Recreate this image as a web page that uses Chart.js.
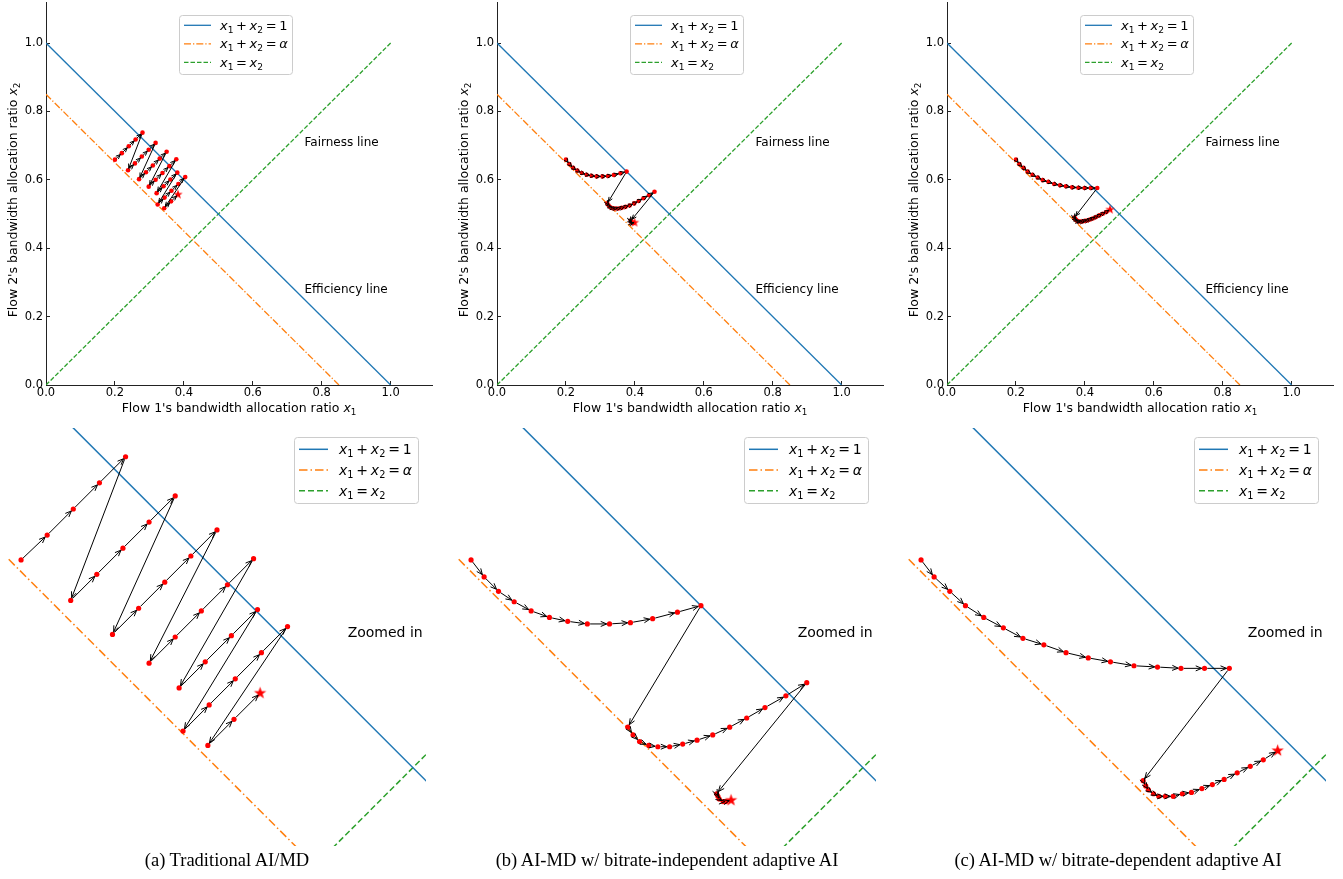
<!DOCTYPE html>
<html>
<head>
<meta charset="utf-8">
<script src="https://cdn.jsdelivr.net/npm/chart.js@4.4.0/dist/chart.umd.min.js"></script>
<style>
  html, body { margin: 0; padding: 0; background: #fff; }
  body { width: 1343px; height: 879px; position: relative; overflow: hidden; }
  canvas { position: absolute; }
  .cap { position: absolute; top: 849px; width: 600px; text-align: center; color: #000;
         font: 18.5px/22px "Liberation Serif", "Times New Roman", serif; white-space: nowrap; }
</style>
</head>
<body>
<canvas id="topA" width="450" height="422" style="left:0px;top:-2px"></canvas>
<canvas id="topB" width="450" height="422" style="left:451px;top:-2px"></canvas>
<canvas id="topC" width="450" height="422" style="left:901px;top:-2px"></canvas>
<canvas id="botA" width="450" height="430" style="left:0px;top:420px"></canvas>
<canvas id="botB" width="450" height="430" style="left:450px;top:420px"></canvas>
<canvas id="botC" width="450" height="430" style="left:900px;top:420px"></canvas>
<div class="cap" style="left:-73px">(a) Traditional AI/MD</div>
<div class="cap" style="left:367px">(b) AI-MD w/ bitrate-independent adaptive AI</div>
<div class="cap" style="left:818px">(c) AI-MD w/ bitrate-dependent adaptive AI</div>
<script>
// 값은 그림에서 읽은 것
const alpha = 0.85;
const xTicks = [0, 0.2, 0.4, 0.6, 0.8, 1.0];
const yTicks = [0, 0.2, 0.4, 0.6, 0.8, 1.0];

// 기준선 (x1+x2=1, x1+x2=alpha, x1=x2)
const effX = [0, 1];
const effY = [1, 0];
const alphaX = [0, alpha];
const alphaY = [alpha, 0];
const fairX = [0, 1];
const fairY = [0, 1];

// (a) Traditional AI/MD
const aimdX = [0.200, 0.220, 0.240, 0.260, 0.280, 0.238, 0.258, 0.278, 0.298, 0.318,
               0.270, 0.290, 0.310, 0.330, 0.350, 0.298, 0.318, 0.338, 0.358, 0.378,
               0.321, 0.341, 0.361, 0.381, 0.324, 0.344, 0.364, 0.384, 0.404, 0.343,
               0.363, 0.383];
const aimdY = [0.659, 0.678, 0.698, 0.718, 0.738, 0.628, 0.648, 0.668, 0.688, 0.708,
               0.602, 0.622, 0.642, 0.662, 0.682, 0.580, 0.600, 0.620, 0.640, 0.660,
               0.561, 0.581, 0.601, 0.621, 0.528, 0.548, 0.568, 0.588, 0.608, 0.517,
               0.537, 0.557];

// (b) bitrate-independent adaptive AI
const indepX = [0.200, 0.210, 0.221, 0.233, 0.246, 0.260, 0.274, 0.289, 0.306, 0.322,
                0.339, 0.358, 0.376, 0.320, 0.324, 0.329, 0.336, 0.343, 0.352, 0.362,
                0.373, 0.385, 0.398, 0.411, 0.425, 0.441, 0.457, 0.388, 0.389, 0.390,
                0.393, 0.395, 0.399];
const indepY = [0.659, 0.646, 0.635, 0.627, 0.620, 0.615, 0.612, 0.610, 0.610, 0.611,
                0.614, 0.619, 0.624, 0.531, 0.525, 0.520, 0.517, 0.516, 0.516, 0.518,
                0.521, 0.525, 0.531, 0.538, 0.546, 0.555, 0.565, 0.480, 0.478, 0.476,
                0.474, 0.474, 0.475];

// (c) bitrate-dependent adaptive AI
const depX = [0.200, 0.210, 0.222, 0.234, 0.248, 0.263, 0.278, 0.294, 0.311, 0.328,
              0.345, 0.363, 0.381, 0.399, 0.417, 0.436, 0.370, 0.372, 0.374, 0.378,
              0.382, 0.387, 0.393, 0.400, 0.407, 0.415, 0.423, 0.432, 0.442, 0.452,
              0.462, 0.473];
const depY = [0.659, 0.646, 0.635, 0.624, 0.615, 0.607, 0.599, 0.594, 0.588, 0.584,
              0.581, 0.578, 0.577, 0.576, 0.576, 0.576, 0.490, 0.486, 0.483, 0.480,
              0.478, 0.478, 0.478, 0.480, 0.481, 0.484, 0.487, 0.491, 0.496, 0.501,
              0.506, 0.513];

// 수식 라벨: [텍스트, 종류] (i: 이탤릭, r: 일반, s: 아래첨자)
const SP = '\u2009';
const labelEff = [['x', 'i'], ['1', 's'], [SP + '+' + SP, 'r'], ['x', 'i'], ['2', 's'], [SP + '=' + SP + '1', 'r']];
const labelAlpha = [['x', 'i'], ['1', 's'], [SP + '+' + SP, 'r'], ['x', 'i'], ['2', 's'], [SP + '=' + SP, 'r'], ['α', 'i']];
const labelFair = [['x', 'i'], ['1', 's'], [SP + '=' + SP, 'r'], ['x', 'i'], ['2', 's']];
const xTitle = [["Flow 1's bandwidth allocation ratio ", 'r'], ['x', 'i'], ['1', 's']];
const yTitle = [["Flow 2's bandwidth allocation ratio ", 'r'], ['x', 'i'], ['2', 's']];

const FAM = '"DejaVu Sans", sans-serif';
const zip = (xs, ys) => xs.map((x, i) => ({ x, y: ys[i] }));

const styles = {
    top: { width: 1.3, dashAlpha: [7, 2, 1.3, 2], dashFair: [4.5, 2], dot: 2.3, star: 5, head: 4.5, shrink: 2 },
    bottom: { width: 1.5, dashAlpha: [8.5, 3, 1.5, 3], dashFair: [6, 3], dot: 2.6, star: 6.5, head: 6, shrink: 2.8 },
};

// 빨간 별 마커
const makeStar = (r) => {
    const c = document.createElement('canvas');
    const s = Math.ceil(r * 2 + 2);
    c.width = s; c.height = s;
    const g = c.getContext('2d');
    g.fillStyle = 'red';
    g.beginPath();
    for (let k = 0; k < 10; k++) {
        const rr = k % 2 ? r * 0.4 : r;
        const a = -Math.PI / 2 + k * Math.PI / 5;
        g.lineTo(s / 2 + rr * Math.cos(a), s / 2 + rr * Math.sin(a));
    }
    g.closePath();
    g.fill();
    return c;
};

const drawMath = (ctx, parts, x, y, size, align) => {
    const fontOf = (k) => (k === 'i' ? 'italic ' : '') + (k === 's' ? size * 0.7 : size) + 'px ' + FAM;
    let total = 0;
    const widths = parts.map(([t, k]) => {
        ctx.font = fontOf(k);
        const w = ctx.measureText(t).width;
        total += w;
        return w;
    });
    let cx = align === 'center' ? x - total / 2 : x;
    ctx.textAlign = 'left';
    ctx.textBaseline = 'alphabetic';
    parts.forEach(([t, k], i) => {
        ctx.font = fontOf(k);
        ctx.fillText(t, cx, k === 's' ? y + size * 0.22 : y);
        cx += widths[i];
    });
};

// 화살표: 연속된 점 사이를 잇는 '->' 모양
const arrowPlugin = {
    id: 'arrows',
    afterDatasetsDraw(chart, args, opts) {
        const pts = chart.getDatasetMeta(opts.dataset).data;
        const ctx = chart.ctx;
        ctx.save();
        ctx.strokeStyle = '#000';
        ctx.lineWidth = opts.width;
        for (let i = 0; i < pts.length - 1; i++) {
            const a = pts[i], b = pts[i + 1];
            const dx = b.x - a.x, dy = b.y - a.y;
            const d = Math.hypot(dx, dy);
            if (d < 0.5) continue;
            const ux = dx / d, uy = dy / d;
            const sh = Math.min(opts.shrink, d / 3);
            const x0 = a.x + ux * sh, y0 = a.y + uy * sh;
            const x1 = b.x - ux * sh, y1 = b.y - uy * sh;
            ctx.beginPath();
            ctx.moveTo(x0, y0);
            ctx.lineTo(x1, y1);
            ctx.stroke();
            const L = opts.head, W = opts.head * 0.42;
            ctx.beginPath();
            ctx.moveTo(x1 - ux * L - uy * W, y1 - uy * L + ux * W);
            ctx.lineTo(x1, y1);
            ctx.lineTo(x1 - ux * L + uy * W, y1 - uy * L - ux * W);
            ctx.stroke();
        }
        ctx.restore();
    }
};

// 범례, 축 제목, 주석 텍스트
const mathPlugin = {
    id: 'mathText',
    afterDraw(chart, args, o) {
        const ctx = chart.ctx;
        const area = chart.chartArea;
        ctx.save();
        ctx.fillStyle = '#000';
        if (o.xTitle) {
            drawMath(ctx, xTitle, (area.left + area.right) / 2, o.xTitle.y, o.xTitle.size, 'center');
        }
        if (o.yTitle) {
            ctx.save();
            ctx.translate(o.yTitle.x, o.yTitle.cy);
            ctx.rotate(-Math.PI / 2);
            drawMath(ctx, yTitle, 0, 0, o.yTitle.size, 'center');
            ctx.restore();
        }
        (o.notes || []).forEach((n) => {
            ctx.font = n.size + 'px ' + FAM;
            ctx.textAlign = 'left';
            ctx.textBaseline = 'alphabetic';
            ctx.fillText(n.text, chart.scales.x.getPixelForValue(n.x), chart.scales.y.getPixelForValue(n.y));
        });
        const lg = o.legend;
        if (lg) {
            ctx.beginPath();
            ctx.roundRect(lg.x + 0.5, lg.y + 0.5, lg.w, lg.h, 3);
            ctx.fillStyle = 'rgba(255,255,255,0.85)';
            ctx.fill();
            ctx.strokeStyle = '#cccccc';
            ctx.lineWidth = 1;
            ctx.stroke();
            chart.data.datasets.filter((ds) => ds.mathLabel).forEach((ds, i) => {
                const ry = lg.y + lg.first + i * lg.gap;
                ctx.strokeStyle = ds.borderColor;
                ctx.lineWidth = ds.borderWidth;
                ctx.setLineDash(ds.borderDash || []);
                ctx.beginPath();
                ctx.moveTo(lg.x + lg.l0, ry);
                ctx.lineTo(lg.x + lg.l1, ry);
                ctx.stroke();
                ctx.setLineDash([]);
                ctx.fillStyle = '#000';
                drawMath(ctx, ds.mathLabel, lg.x + lg.tx, ry + lg.size * 0.36, lg.size, 'left');
            });
        }
        ctx.restore();
    }
};

const refDatasets = (s) => [
    { data: zip(effX, effY), showLine: true, borderColor: '#1f77b4', borderWidth: s.width,
      pointRadius: 0, mathLabel: labelEff, order: 3 },
    { data: zip(alphaX, alphaY), showLine: true, borderColor: '#ff7f0e', borderWidth: s.width,
      borderDash: s.dashAlpha, pointRadius: 0, mathLabel: labelAlpha, order: 3 },
    { data: zip(fairX, fairY), showLine: true, borderColor: '#2ca02c', borderWidth: s.width,
      borderDash: s.dashFair, pointRadius: 0, mathLabel: labelFair, order: 3 },
];

const trajDataset = (xs, ys, s) => {
    const star = makeStar(s.star);
    const n = xs.length;
    return {
        data: zip(xs, ys), showLine: false,
        pointStyle: (c) => (c.dataIndex === n - 1 ? star : 'circle'),
        pointRadius: s.dot, backgroundColor: 'red', borderColor: 'red', borderWidth: 0, order: 1,
    };
};

const tickFont = { family: FAM, size: 11.5 };

// 축 크기 고정 (라벨 때문에 생기는 여백 제거)
const fixBox = (w, h) => (sc) => {
    if (w) sc.width = w;
    if (h) sc.height = h;
    sc.paddingTop = 0;
    sc.paddingBottom = 0;
    sc.paddingLeft = 0;
    sc.paddingRight = 0;
};

const topChart = (id, xs, ys) => {
    const s = styles.top;
    return new Chart(document.getElementById(id), {
        type: 'scatter',
        data: { datasets: [...refDatasets(s), trajDataset(xs, ys, s)] },
        options: {
            responsive: false, animation: false, devicePixelRatio: 1, events: [],
            layout: { padding: { top: 0, right: 18, left: 0, bottom: 0 } },
            plugins: {
                legend: { display: false },
                tooltip: { enabled: false },
                arrows: { dataset: 3, head: s.head, shrink: s.shrink, width: 1 },
                mathText: {
                    xTitle: { y: 414, size: 12.5 },
                    yTitle: { x: 17, cy: 202, size: 12.5 },
                    legend: { x: 179, y: 17, w: 113, h: 59, first: 10.3, gap: 18.5, l0: 5, l1: 32, tx: 41, size: 13 },
                    notes: [
                        { text: 'Fairness line', x: 0.75, y: 0.70, size: 12 },
                        { text: 'Efficiency line', x: 0.75, y: 0.27, size: 12 },
                    ],
                },
            },
            scales: {
                x: {
                    type: 'linear', min: 0, max: 1.12,
                    afterFit: fixBox(0, 35),
                    afterBuildTicks: (sc) => { sc.ticks = xTicks.map((v) => ({ value: v })); },
                    ticks: { callback: (v) => v.toFixed(1), font: tickFont, color: '#000', padding: 5, autoSkip: false, maxRotation: 0 },
                    grid: { drawOnChartArea: false, tickLength: -4, color: '#222', tickWidth: 1 },
                    border: { color: '#222', width: 1 },
                },
                y: {
                    type: 'linear', min: 0, max: 1.12,
                    afterFit: fixBox(46, 0),
                    afterBuildTicks: (sc) => { sc.ticks = yTicks.map((v) => ({ value: v })); },
                    ticks: { callback: (v) => v.toFixed(1), font: tickFont, color: '#000', padding: 7, autoSkip: false },
                    grid: { drawOnChartArea: false, tickLength: -4, color: '#222', tickWidth: 1 },
                    border: { color: '#222', width: 1 },
                },
            },
        },
        plugins: [arrowPlugin, mathPlugin],
    });
};

const bottomChart = (id, xs, ys) => {
    const s = styles.bottom;
    return new Chart(document.getElementById(id), {
        type: 'scatter',
        data: { datasets: [...refDatasets(s), trajDataset(xs, ys, s)] },
        options: {
            responsive: false, animation: false, devicePixelRatio: 1, events: [],
            layout: { padding: { top: 8, right: 24, left: 8, bottom: 4 } },
            plugins: {
                legend: { display: false },
                tooltip: { enabled: false },
                arrows: { dataset: 3, head: s.head, shrink: s.shrink, width: 1 },
                mathText: {
                    legend: { x: 294, y: 17, w: 124, h: 66, first: 12.3, gap: 20.7, l0: 5, l1: 34, tx: 45, size: 14 },
                    notes: [{ text: 'Zoomed in', x: 0.45, y: 0.60, size: 14 }],
                },
            },
            scales: {
                x: { type: 'linear', min: 0.19, max: 0.51, display: false },
                y: { type: 'linear', min: 0.44, max: 0.76, display: false },
            },
        },
        plugins: [arrowPlugin, mathPlugin],
    });
};

topChart('topA', aimdX, aimdY);
topChart('topB', indepX, indepY);
topChart('topC', depX, depY);
bottomChart('botA', aimdX, aimdY);
bottomChart('botB', indepX, indepY);
bottomChart('botC', depX, depY);
</script>
</body>
</html>
